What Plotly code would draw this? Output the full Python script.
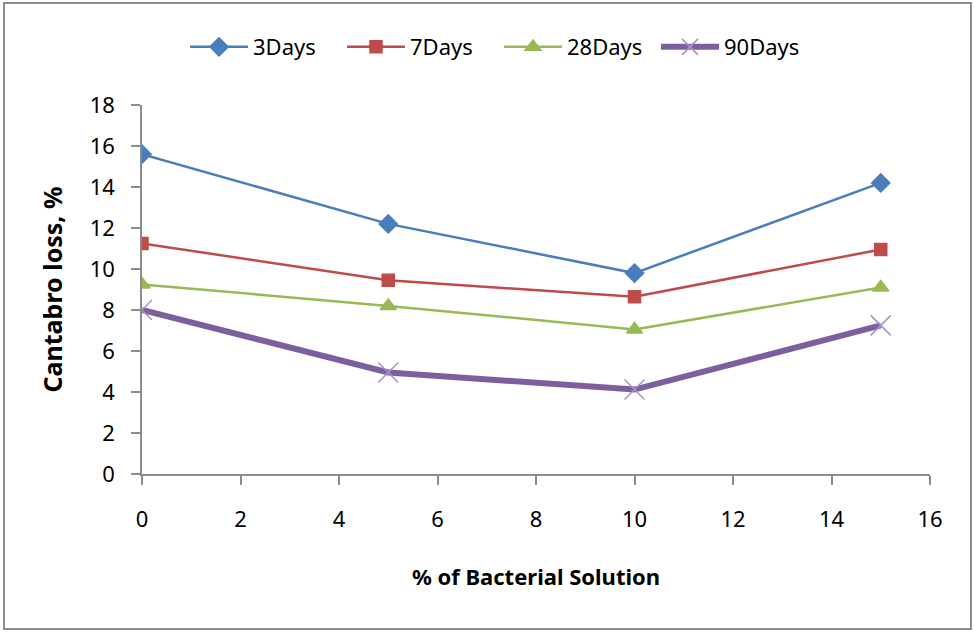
import plotly.graph_objects as go

# % of bacterial solution
bacteria_pct = [0, 5, 10, 15]

# Cantabro loss (%) per curing age
loss_3days = [15.6, 12.2, 9.8, 14.2]
loss_7days = [11.25, 9.45, 8.65, 10.95]
loss_28days = [9.25, 8.2, 7.05, 9.1]
loss_90days = [8.0, 4.95, 4.12, 7.25]

# name, values, line colour, line width, marker symbol, marker size, marker colour
SERIES = [
    ("3Days", loss_3days, "#4a7ebb", 2.5, "diamond", 14, "#4a7ebb"),
    ("7Days", loss_7days, "#be4b48", 2.5, "square", 12, "#be4b48"),
    ("28Days", loss_28days, "#98b954", 2.5, "triangle-up", 14, "#98b954"),
    ("90Days", loss_90days, "#7d5fa0", 6, "x-thin-open", 20, "#a593c8"),
]

FONT = "Noto Sans"


def build_traces():
    traces = []
    for name, values, color, width, symbol, size, mcolor in SERIES:
        traces.append(go.Scatter(
            x=bacteria_pct,
            y=values,
            name=name,
            mode="lines+markers",
            line=dict(color=color, width=width),
            marker=dict(symbol=symbol, size=size, color=mcolor,
                        line=dict(width=1.5, color=mcolor)),
        ))
    return traces


def main():
    fig = go.Figure(data=build_traces())

    axis_common = dict(
        showgrid=False,
        zeroline=False,
        showline=True,
        linecolor="#8c8c8c",
        linewidth=1.5,
        ticks="outside",
        ticklen=9,
        tickcolor="#8c8c8c",
        tickwidth=1.5,
        tickfont=dict(family=FONT, size=22, color="#000000"),
    )

    fig.update_layout(
        width=975,
        height=632,
        paper_bgcolor="white",
        plot_bgcolor="white",
        margin=dict(l=142, r=45, t=105, b=158),
        font=dict(family=FONT, color="#000000"),
        legend=dict(
            orientation="h",
            x=(185 - 142) / 788,
            xanchor="left",
            y=1.157,
            yanchor="middle",
            font=dict(family=FONT, size=22),
            itemwidth=58,
            entrywidth=84,
            entrywidthmode="pixels",
            tracegroupgap=0,
        ),
        xaxis=dict(
            range=[0, 16],
            dtick=2,
            ticklabelstandoff=16,
            title=dict(text="<b>% of Bacterial Solution</b>",
                       font=dict(family=FONT, size=22), standoff=37),
            **axis_common,
        ),
        yaxis=dict(
            range=[0, 18],
            dtick=2,
            ticklabelstandoff=12,
            title=dict(text="<b>Cantabro loss, %</b>",
                       font=dict(family=FONT, size=25), standoff=20),
            **axis_common,
        ),
        shapes=[
            dict(type="rect", xref="paper", yref="paper",
                 x0=(4 - 142) / 788, x1=(971 - 142) / 788,
                 y0=(474 - 629) / 369, y1=(474 - 3) / 369,
                 line=dict(color="#8c8c8c", width=2), layer="below"),
        ],
    )

    fig.write_html("out.html",
                   config={"displayModeBar": False},
                   post_script="document.body.style.margin='0';"
                               "document.body.style.overflow='hidden';")


if __name__ == "__main__":
    main()
